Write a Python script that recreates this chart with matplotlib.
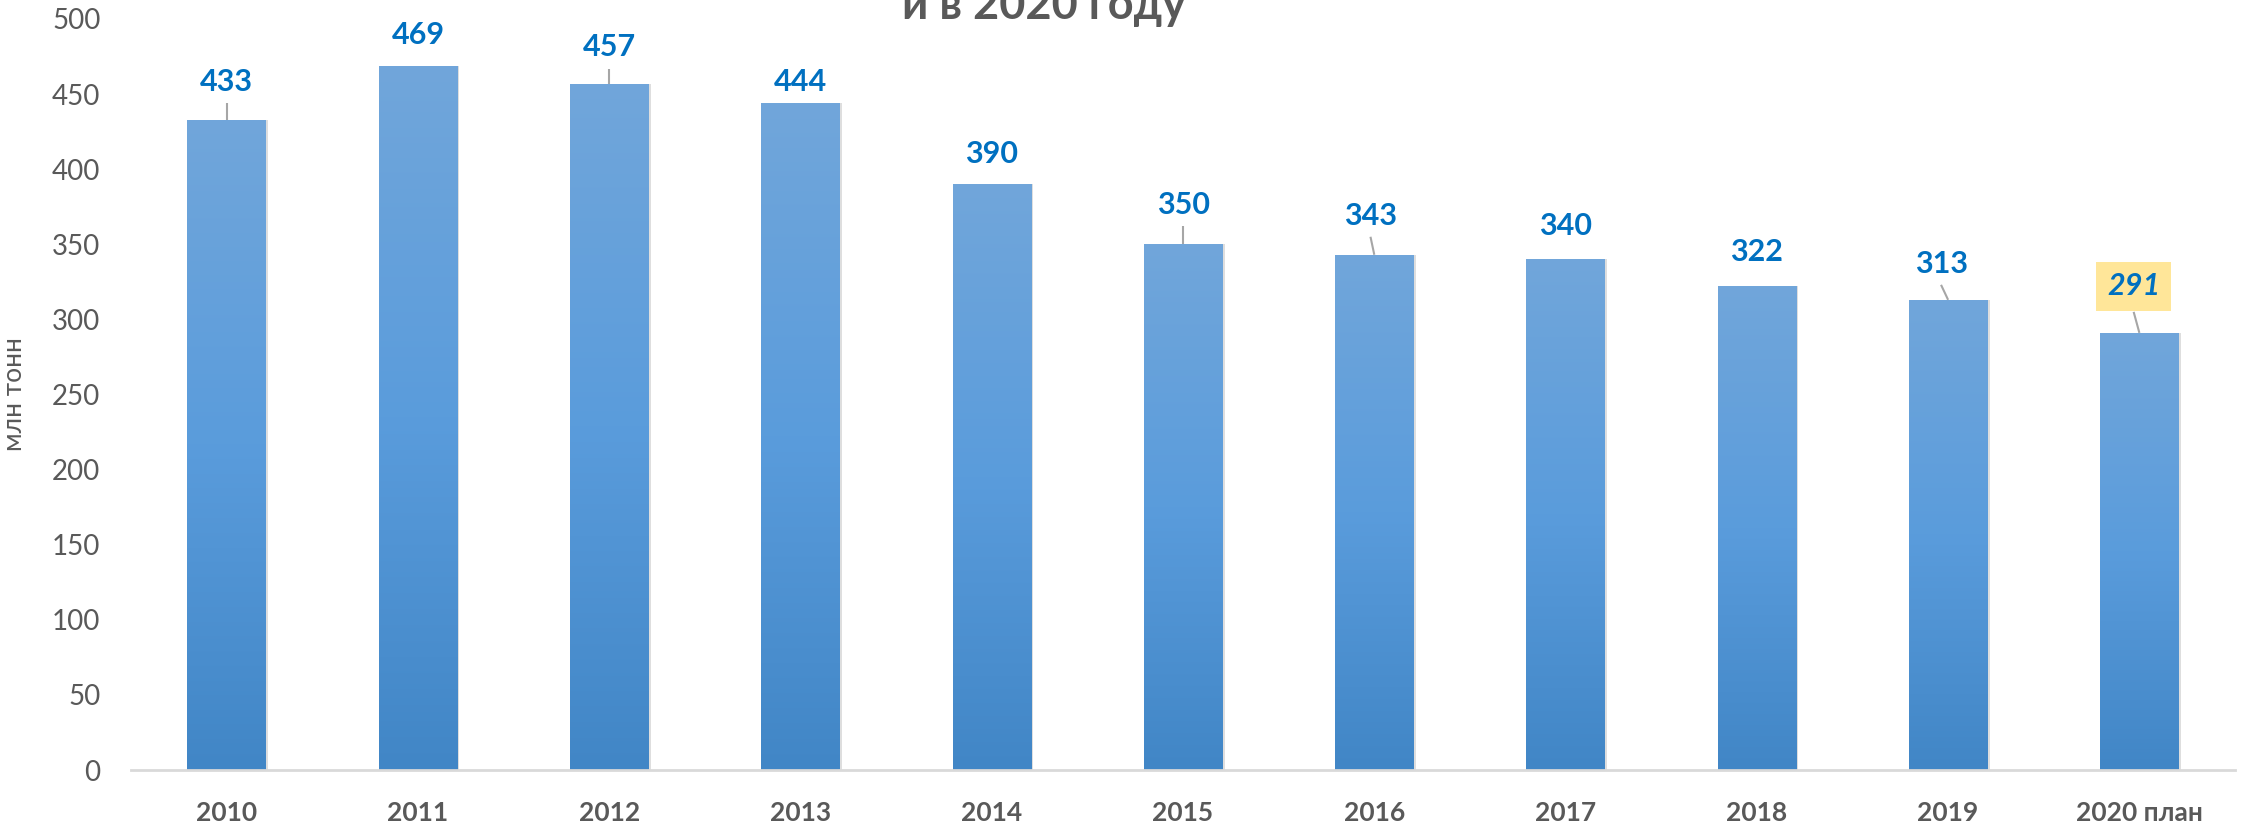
import numpy as np
import matplotlib.pyplot as plt
from matplotlib.colors import LinearSegmentedColormap

# data
years = ['2010', '2011', '2012', '2013', '2014', '2015', '2016', '2017', '2018', '2019', '2020 план']
values = [433, 469, 457, 444, 390, 350, 343, 340, 322, 313, 291]
yticks = [0, 50, 100, 150, 200, 250, 300, 350, 400, 450, 500]

# label placement (offset above bar in data units, horizontal shift in category units)
label_lift = [25, 20, 24, 14, 20, 26, 26, 22, 23, 24, 31]
label_shift = [0, 0, 0, 0, 0, 0, -0.02, 0, 0, -0.037, -0.03]
has_leader = [True, False, True, False, False, True, True, False, False, True, True]

plt.rcParams['font.family'] = ['Lato', 'DejaVu Sans']
grey = '#595959'
blue_txt = '#0070C0'

fig = plt.figure(figsize=(22.44, 8.24), dpi=100)
ax = fig.add_axes([0.0584, 0.0655, 0.9376, 0.9115])

x = np.arange(len(years))
width = 0.41

# soft shadow on the right of each bar
ax.bar(x + 0.012, values, width, color='#BFBFBF', alpha=0.5, zorder=1)
bars = ax.bar(x, values, width, color='#5B9BD5', zorder=2)

# vertical gradient inside each bar
cmap = LinearSegmentedColormap.from_list('barg', ['#4186C6', '#5A9CDC', '#71A6DA'])
grad = np.linspace(0, 1, 256).reshape(-1, 1)
for b in bars:
    im = ax.imshow(grad, cmap=cmap, aspect='auto', origin='lower',
                   extent=[b.get_x(), b.get_x() + b.get_width(), 0, b.get_height()], zorder=3)
    im.set_clip_path(b)

# value labels + leader lines
for i, v in enumerate(values):
    lx = i + label_shift[i]
    ly = v + label_lift[i]
    if has_leader[i]:
        top = ly - (17 if i == len(values) - 1 else 14)
        ax.plot([lx, i], [top, v], color='#A6A6A6', lw=1.5, zorder=4, solid_capstyle='butt')
    if i == len(values) - 1:
        ax.text(lx, ly, str(v), ha='center', va='center', fontsize=22, fontweight='bold',
                fontstyle='italic', color=blue_txt, zorder=5,
                bbox=dict(boxstyle='square,pad=0.35', fc='#FFE699', ec='none'))
    else:
        ax.text(lx, ly, str(v), ha='center', va='center', fontsize=22, fontweight='bold',
                color=blue_txt, zorder=5)

ax.set_xlim(-0.5, len(years) - 0.5)
ax.set_ylim(0, 500)
ax.set_yticks(yticks)
ax.set_yticklabels([str(t) for t in yticks], fontsize=20, color=grey)
ax.set_xticks(x)
ax.set_xticklabels(years, fontsize=19, fontweight='bold', color=grey)
ax.tick_params(axis='both', length=0)
ax.tick_params(axis='x', pad=22)
ax.tick_params(axis='y', pad=22)

for s in ['top', 'right', 'left']:
    ax.spines[s].set_visible(False)
ax.spines['bottom'].set_color('#D9D9D9')
ax.spines['bottom'].set_linewidth(2)
ax.spines['bottom'].set_zorder(6)

ax.set_ylabel('млн тонн', fontsize=19, color=grey)
ax.yaxis.set_label_coords(-0.0495, 0.5)

# title (second line only is visible in the frame)
fig.text(0.465, 1 - 19 / 824, 'и в 2020 году', ha='center', va='baseline',
         fontsize=32.5, fontweight='bold', color=grey)

fig.savefig('out.png', dpi=100)
